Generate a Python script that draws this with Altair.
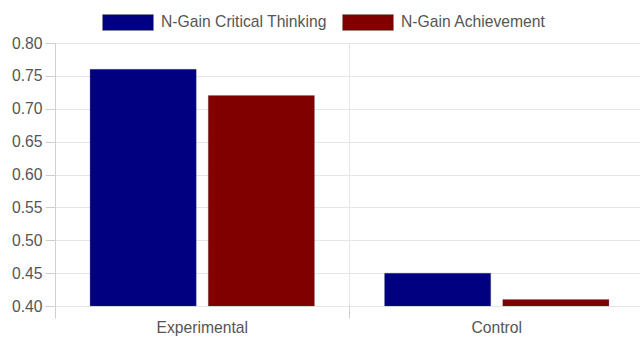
import altair as alt
import pandas as pd

groups = ["Experimental", "Experimental", "Control", "Control"]
series = ["N-Gain Critical Thinking", "N-Gain Achievement", "N-Gain Critical Thinking", "N-Gain Achievement"]
values = [0.76, 0.72, 0.45, 0.41]

group_order = ["Experimental", "Control"]
series_order = ["N-Gain Critical Thinking", "N-Gain Achievement"]
colors = ["#000080", "#800000"]

df = pd.DataFrame({"group": groups, "series": series, "value": values})

FONT = "Liberation Sans"
FS = 15.7
W, H = 585, 263

chart = alt.Chart(df).mark_bar(stroke="#555577", strokeWidth=0.5, strokeOpacity=0.5).encode(
    x=alt.X("group:N", sort=group_order, title=None,
            scale=alt.Scale(paddingInner=0, paddingOuter=0, range=[0, 589]),
            axis=alt.Axis(bandPosition=0, labelAngle=0,
                          grid=True, gridColor="#e6e6e6", domain=False,
                          ticks=True, tickSize=12, tickColor="#d0d0d0",
                          labelFont=FONT, labelFontSize=FS, labelColor="#555555",
                          labelPadding=2)),
    xOffset=alt.XOffset("series:N", sort=series_order,
                        scale=alt.Scale(paddingInner=0.1017, paddingOuter=0.2966)),
    y=alt.Y("value:Q", title=None,
            scale=alt.Scale(domain=[0.4, 0.8], zero=False, nice=False),
            axis=alt.Axis(values=[0.4, 0.45, 0.5, 0.55, 0.6, 0.65, 0.7, 0.75, 0.8],
                          format=".2f", grid=True, gridColor="#e6e6e6",
                          domain=True, domainColor="#d0d0d0",
                          tickSize=10, tickColor="#d0d0d0",
                          labelFont=FONT, labelFontSize=FS, labelColor="#555555",
                          labelPadding=3)),
    y2=alt.datum(0.4),
    color=alt.Color("series:N", sort=series_order,
                    scale=alt.Scale(domain=series_order, range=colors),
                    legend=alt.Legend(title=None, orient="none", legendX=47, legendY=-47,
                                      direction="horizontal",
                                      symbolType="M-1,-0.314H1V0.314H-1Z",
                                      symbolSize=2601, symbolStrokeWidth=0.5,
                                      symbolStrokeColor="#888888",
                                      labelFont=FONT, labelFontSize=FS, labelColor="#555555",
                                      labelLimit=400,
                                      labelOffset=7, columnPadding=14)),
).properties(
    width=W, height=H,
    autosize=alt.AutoSizeParams(type="none"),
    padding={"left": 55, "top": 43, "right": 0, "bottom": 32},
).configure_view(stroke=None)

chart.save("out.html", embed_options={"renderer": "svg", "actions": False})
